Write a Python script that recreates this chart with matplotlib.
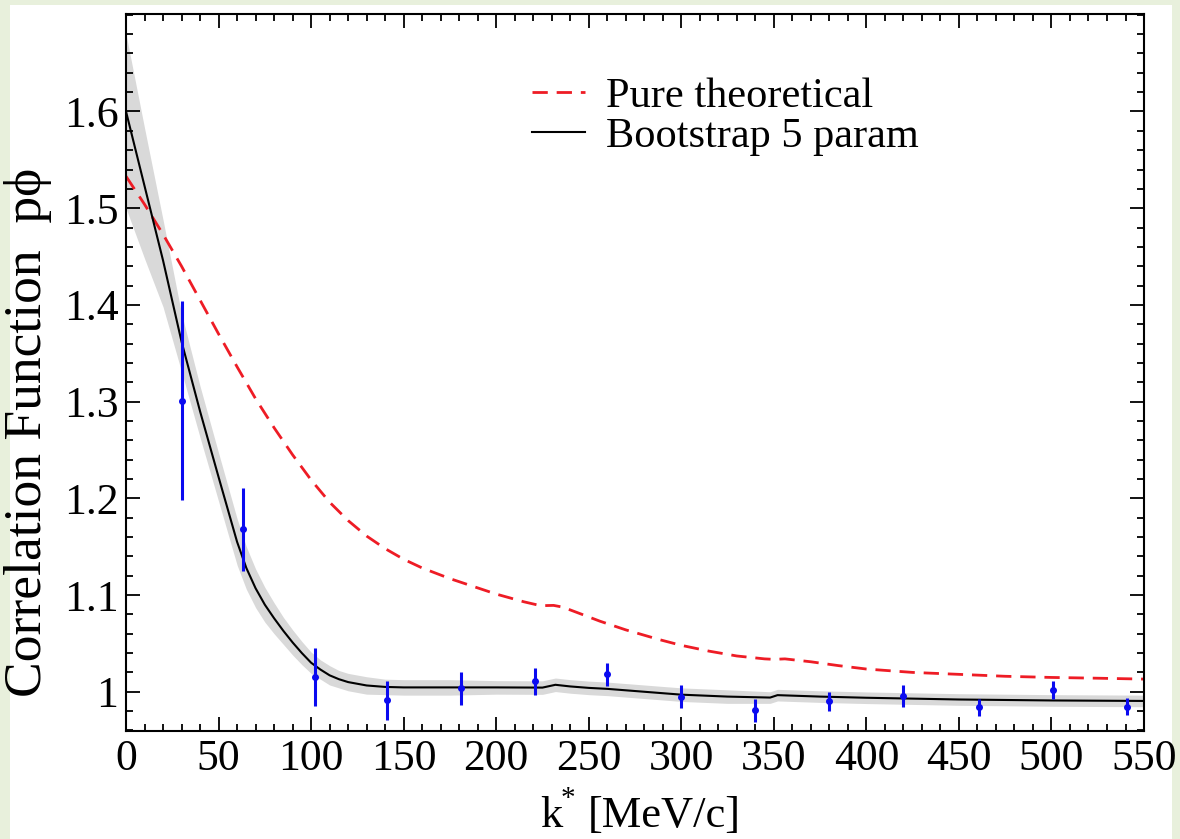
import numpy as np
import matplotlib.pyplot as plt
from matplotlib.patches import Rectangle
from matplotlib.ticker import MultipleLocator, FixedLocator

plt.rcParams['font.family'] = ['Liberation Serif', 'DejaVu Serif']

# ── measured points (k*, C(k*), error) ────────────────────────────────────────
data_k   = [30, 63, 102, 141, 181, 221, 260, 300, 340, 380, 420, 461, 501, 541]
data_c   = [1.301, 1.168, 1.015, 0.991, 1.0035, 1.011, 1.018, 0.995, 0.981,
            0.990, 0.9955, 0.984, 1.002, 0.9845]
data_err = [0.103, 0.043, 0.030, 0.020, 0.017, 0.014, 0.012, 0.012, 0.012,
            0.010, 0.011, 0.009, 0.009, 0.009]

# ── bootstrap fit curve with its uncertainty band ────────────────────────────
fit_k  = [0, 10, 20, 30, 40, 50, 60, 65, 70, 75, 80, 85, 90, 95, 100, 105,
          110, 115, 120, 130, 140, 150, 175, 200, 225, 232, 240, 250, 260,
          280, 300, 325, 348, 352, 375, 400, 450, 500, 550]
fit_c  = [1.600, 1.523, 1.446, 1.362, 1.290, 1.222, 1.155, 1.128, 1.107,
          1.090, 1.076, 1.063, 1.051, 1.040, 1.030, 1.023, 1.017, 1.013,
          1.010, 1.0065, 1.005, 1.0045, 1.0045, 1.0045, 1.0043, 1.0072,
          1.0055, 1.0040, 1.0030, 1.0000, 0.9970, 0.9950, 0.9940, 0.9965,
          0.9950, 0.9938, 0.9920, 0.9910, 0.9905]
fit_up = [0.080, 0.060, 0.042, 0.029, 0.026, 0.025, 0.024, 0.022, 0.020,
          0.018, 0.016, 0.014, 0.013, 0.012, 0.011, 0.010, 0.010, 0.009,
          0.009, 0.009, 0.008, 0.008, 0.008, 0.007, 0.007, 0.007, 0.007,
          0.007, 0.007, 0.007, 0.007, 0.007, 0.006, 0.006, 0.006, 0.006,
          0.006, 0.006, 0.006]
fit_lo = [0.100, 0.075, 0.048, 0.031, 0.027, 0.025, 0.024, 0.022, 0.020,
          0.018, 0.016, 0.014, 0.013, 0.012, 0.011, 0.010, 0.010, 0.009,
          0.009, 0.009, 0.008, 0.008, 0.008, 0.007, 0.007, 0.007, 0.007,
          0.007, 0.007, 0.007, 0.007, 0.007, 0.006, 0.006, 0.006, 0.006,
          0.006, 0.006, 0.006]

# ── pure theoretical prediction ──────────────────────────────────────────────
theo_k = [0, 10, 20, 30, 40, 50, 60, 70, 80, 90, 100, 110, 120, 130, 140,
          150, 160, 175, 200, 215, 224, 231, 236, 245, 256, 270, 288, 300,
          315, 330, 345, 350, 356, 370, 385, 400, 425, 450, 475, 500, 525,
          550]
theo_c = [1.533, 1.504, 1.473, 1.440, 1.405, 1.370, 1.336, 1.303, 1.273,
          1.245, 1.219, 1.196, 1.177, 1.161, 1.148, 1.137, 1.128, 1.117,
          1.101, 1.093, 1.089, 1.0893, 1.0875, 1.081, 1.073, 1.064, 1.054,
          1.048, 1.042, 1.037, 1.034, 1.0335, 1.034, 1.031, 1.027, 1.0235,
          1.020, 1.018, 1.016, 1.0148, 1.014, 1.0131]

y_major = [1.0, 1.1, 1.2, 1.3, 1.4, 1.5, 1.6]
y_labels = ['1', '1.1', '1.2', '1.3', '1.4', '1.5', '1.6']

W, H = 1180, 839
fig = plt.figure(figsize=(W / 100, H / 100), dpi=100, facecolor='#e8f0dc')
fig.patches.append(Rectangle((10 / W, 0), 1162 / W, 834 / H,
                             transform=fig.transFigure, facecolor='white',
                             edgecolor='none', zorder=-10))
ax = fig.add_axes([0.1068, 0.1287, 0.8627, 0.8546])
ax.set_zorder(5)

fk = np.array(fit_k)
fc = np.array(fit_c)
ax.fill_between(fk, fc - np.array(fit_lo), fc + np.array(fit_up),
                color='#d9d9d9', lw=0, zorder=1)
ax.plot(theo_k, theo_c, color='#ee1c25', lw=2.0, dashes=(5.5, 3.2),
        label='Pure theoretical', zorder=2)
ax.plot(fit_k, fit_c, color='black', lw=1.5, label='Bootstrap 5 param',
        zorder=3)
ax.errorbar(data_k, data_c, yerr=data_err, fmt='o', color='#0a0af0',
            ms=4, elinewidth=2.2, capsize=0, zorder=4)

ax.set_xlim(0, 550)
ax.set_ylim(0.9594, 1.7008)
ax.xaxis.set_major_locator(MultipleLocator(50))
ax.xaxis.set_minor_locator(MultipleLocator(10))
ax.yaxis.set_major_locator(FixedLocator(y_major))
ax.set_yticklabels(y_labels)
ax.yaxis.set_minor_locator(MultipleLocator(0.02))
ax.tick_params(which='both', direction='in', top=True, right=True,
               width=1.3, labelsize=31.5, pad=5.5)
ax.tick_params(which='major', length=10)
ax.tick_params(which='minor', length=5)
for s in ax.spines.values():
    s.set_linewidth(1.5)

# x title built from pieces so the star of k* can sit high and small
fig.text(540 / W, 1 - 827 / H, 'k', fontsize=32, ha='left', va='baseline')
fig.text(568 / W, 1 - 806 / H, '*', fontsize=21, ha='center', va='baseline')
fig.text(588 / W, 1 - 827 / H, '[MeV/c]', fontsize=32, ha='left',
         va='baseline')

ax.set_ylabel('Correlation Function  p\u03d5', fontsize=38.5)
ax.yaxis.set_label_coords(-0.073, 0.417)

ax.legend(loc='upper left', bbox_to_anchor=(0.382, 0.935), frameon=False,
          fontsize=30.5, handlelength=1.25, handletextpad=0.5,
          labelspacing=0.02, borderaxespad=0)

fig.savefig('out.png', dpi=100, facecolor=fig.get_facecolor())
